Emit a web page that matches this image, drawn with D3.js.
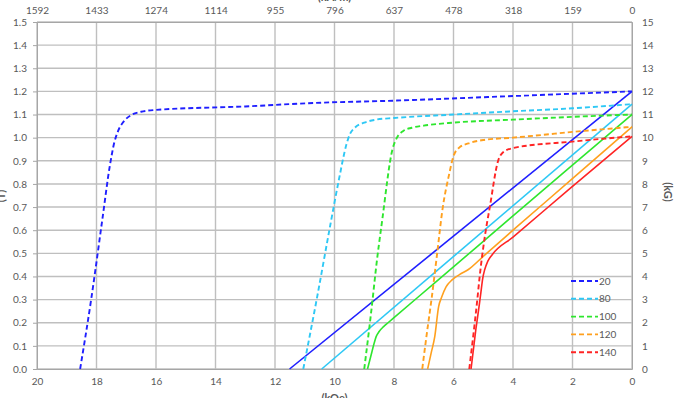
<!DOCTYPE html>
<html>
<head>
<meta charset="utf-8">
<script src="https://cdn.jsdelivr.net/npm/d3@7"></script>
<style>
  body { margin: 0; background: #fff; }
  svg text { font-family: Lato, "Open Sans", sans-serif; fill: #595959; }
</style>
</head>
<body>
<svg id="chart" width="676" height="398"></svg>
<script>
const svgEl = document.getElementById('chart')
const width = +svgEl.getAttribute('width')
const height = +svgEl.getAttribute('height')
const svg = d3.select('#chart')

// tick labels
const kOeTicks = [20, 18, 16, 14, 12, 10, 8, 6, 4, 2, 0]
const kAmTicks = [1592, 1433, 1274, 1114, 955, 796, 637, 478, 318, 159, 0]
const teslaTicks = [0, 0.1, 0.2, 0.3, 0.4, 0.5, 0.6, 0.7, 0.8, 0.9, 1.0, 1.1, 1.2, 1.3, 1.4, 1.5]
const kGTicks = [0, 1, 2, 3, 4, 5, 6, 7, 8, 9, 10, 11, 12, 13, 14, 15]

// temperatures (legend)
const temps = ['20', '80', '100', '120', '140']
const colors = ['#1f1fff', '#2ec8f5', '#2ee62e', '#ffa01e', '#ff2424']

// intrinsic curves (dashed), [H kOe, J T]
const j20 = [[0,1.20],[4,1.18],[8,1.16],[10.7,1.15],[13,1.135],[16,1.12],[16.5,1.112],[16.8,1.10],[17.05,1.075],[17.27,1.03],[17.4,0.98],[17.55,0.88],[17.8,0.65],[18.18,0.30],[18.55,0]]
const j80 = [[0,1.145],[2,1.127],[4,1.114],[6,1.10],[8,1.085],[8.6,1.078],[9.0,1.065],[9.3,1.045],[9.5,1.01],[9.6,0.97],[9.85,0.82],[10.13,0.63],[10.6,0.30],[11.05,0]]
const j100 = [[0,1.10],[2,1.09],[4,1.078],[6,1.065],[7,1.052],[7.4,1.043],[7.7,1.028],[7.9,1.0],[8.05,0.95],[8.4,0.64],[8.61,0.43],[8.72,0.30],[9.0,0]]
const j120 = [[0,1.047],[1,1.036],[2,1.025],[3,1.012],[4,1.0],[5,0.99],[5.5,0.975],[5.8,0.958],[6.0,0.92],[6.15,0.84],[6.37,0.69],[6.54,0.51],[6.73,0.31],[6.9,0.15],[7.05,0]]
const j140 = [[0,1.006],[2,0.983],[4,0.955],[4.35,0.935],[4.5,0.90],[4.78,0.70],[4.95,0.57],[5.12,0.40],[5.2,0.30],[5.47,0]]

// normal curves (solid), [H kOe, B T]
const b20 = [[0,1.20],[11.51,0]]
const b80 = [[0,1.145],[10.43,0]]
const b100 = [[0,1.10],[2.2,0.86],[4.11,0.65],[6.64,0.371],[8.02,0.22],[8.2,0.2],[8.35,0.183],[8.5,0.162],[8.6,0.14],[8.67,0.11],[8.78,0.055],[8.89,0]]
const b120 = [[0,1.047],[2.09,0.813],[4.0,0.60],[5.0,0.487],[5.5,0.43],[5.8,0.408],[6.05,0.385],[6.25,0.355],[6.4,0.31],[6.5,0.27],[6.63,0.14],[6.75,0.07],[6.87,0]]
const b140 = [[0,1.006],[2.09,0.78],[4.0,0.57],[4.7,0.494],[4.85,0.465],[4.95,0.43],[5.02,0.39],[5.08,0.33],[5.13,0.28],[5.25,0.17],[5.41,0]]

const intrinsic = [j20, j80, j100, j120, j140]
const normal = [b20, b80, b100, b120, b140]

const plotLeft = 37, plotRight = 632, plotTop = 22, plotBottom = 369

const x = d3.scaleLinear().domain([20, 0]).range([plotLeft, plotRight])
const xTop = d3.scaleLinear().domain([1592, 0]).range([plotLeft, plotRight])
const y = d3.scaleLinear().domain([0, 1.5]).range([plotBottom, plotTop])
const yRight = d3.scaleLinear().domain([0, 15]).range([plotBottom, plotTop])

// gridlines
svg.append('g')
  .selectAll('line')
  .data(teslaTicks)
  .enter()
  .append('line')
    .attr('x1', plotLeft).attr('x2', plotRight)
    .attr('y1', d => y(d)).attr('y2', d => y(d))
    .attr('stroke', '#bfbfbf')
    .attr('stroke-width', 1.4)

svg.append('g')
  .selectAll('line')
  .data(kOeTicks)
  .enter()
  .append('line')
    .attr('x1', d => x(d)).attr('x2', d => x(d))
    .attr('y1', plotTop).attr('y2', plotBottom)
    .attr('stroke', '#bfbfbf')
    .attr('stroke-width', 1.4)

// axes
const styleAxis = g => {
  g.select('.domain').attr('stroke', '#a6a6a6')
  g.selectAll('.tick line').attr('stroke', '#a6a6a6')
  g.selectAll('.tick text').attr('fill', '#595959').style('font-size', '10px')
}

svg.append('g')
  .attr('transform', `translate(0, ${plotBottom})`)
  .call(d3.axisBottom(x).tickValues(kOeTicks).tickFormat(d3.format('d')).tickSize(0).tickPadding(9))
  .call(styleAxis)

svg.append('g')
  .attr('transform', `translate(0, ${plotTop})`)
  .call(d3.axisTop(xTop).tickValues(kAmTicks).tickFormat(d3.format('d')).tickSize(0).tickPadding(8))
  .call(styleAxis)

svg.append('g')
  .attr('transform', `translate(${plotLeft}, 0)`)
  .call(d3.axisLeft(y).tickValues(teslaTicks).tickFormat(d3.format('.1f')).tickSize(4).tickPadding(6))
  .call(styleAxis)

svg.append('g')
  .attr('transform', `translate(${plotRight}, 0)`)
  .call(d3.axisRight(yRight).tickValues(kGTicks).tickFormat(d3.format('d')).tickSize(0).tickPadding(10))
  .call(styleAxis)

svg.selectAll('.tick text').style('font-family', 'Lato, "Open Sans", sans-serif')

// curves
const line = d3.line()
  .x(d => x(d[0]))
  .y(d => y(d[1]))
  .curve(d3.curveMonotoneX)

normal.forEach((pts, i) => {
  svg.append('path')
    .attr('d', line(pts.slice().reverse()))
    .attr('fill', 'none')
    .attr('stroke', colors[i])
    .attr('stroke-width', 1.6)
})

intrinsic.forEach((pts, i) => {
  svg.append('path')
    .attr('d', line(pts.slice().reverse()))
    .attr('fill', 'none')
    .attr('stroke', colors[i])
    .attr('stroke-width', 1.9)
    .attr('stroke-dasharray', '5,3')
})

// legend
const legend = svg.selectAll('g.legend')
  .data(temps)
  .enter()
  .append('g')
    .attr('class', 'legend')
    .attr('transform', (d, i) => `translate(571, ${281 + i * 17.8})`)

legend.append('line')
  .attr('x1', 0).attr('x2', 27)
  .attr('stroke', (d, i) => colors[i])
  .attr('stroke-width', 1.9)
  .attr('stroke-dasharray', '5,3')

legend.append('text')
  .attr('x', 28)
  .attr('dy', '0.35em')
  .style('font-size', '10px')
  .attr('fill', '#404040')
  .text(d => d)

// axis titles (cut off by the frame, as in the original)
svg.append('text')
  .attr('transform', `translate(${(plotLeft + plotRight) / 2}, 1)`)
  .attr('text-anchor', 'middle')
  .style('font-size', '11px').style('font-weight', 'bold')
  .attr('fill', '#404040')
  .text('(kA/m)')

svg.append('text')
  .attr('transform', `translate(${(plotLeft + plotRight) / 2}, 402)`)
  .attr('text-anchor', 'middle')
  .style('font-size', '11px').style('font-weight', 'bold')
  .attr('fill', '#404040')
  .text('(kOe)')

svg.append('text')
  .attr('transform', `translate(5, 196) rotate(-90)`)
  .attr('text-anchor', 'middle')
  .style('font-size', '11px').style('font-weight', 'bold')
  .attr('fill', '#404040')
  .text('(T)')

svg.append('text')
  .attr('transform', `translate(664, 192) rotate(90)`)
  .attr('text-anchor', 'middle')
  .style('font-size', '11px').style('font-weight', 'bold')
  .attr('fill', '#404040')
  .text('(kG)')
</script>
</body>
</html>
